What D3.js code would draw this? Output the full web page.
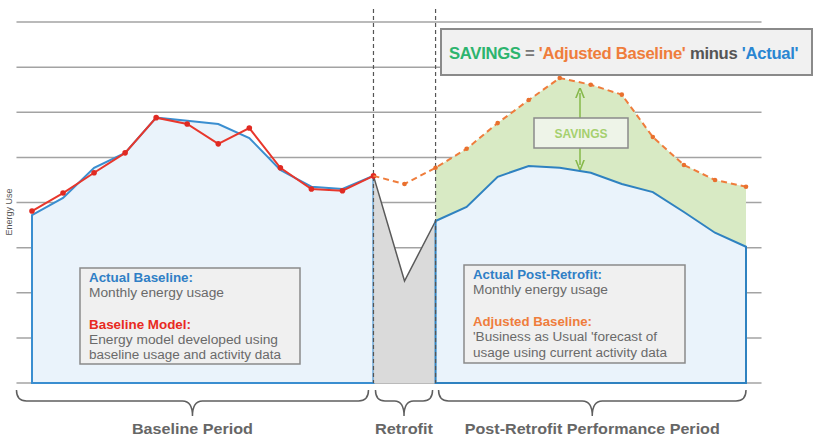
<!DOCTYPE html>
<html>
<head>
<meta charset="utf-8" />
<title>Energy Savings</title>
<script src="https://d3js.org/d3.v7.min.js"></script>
<style>
  body { margin: 0; background: #fff; }
  text { font-family: "Liberation Sans", Arial, sans-serif; }
</style>
</head>
<body>
<svg id="viz"></svg>
<script>
// values (energy use, gridline units)
var actualBaseline = [3.72, 4.10, 4.77, 5.10, 5.88, 5.81, 5.74, 5.43, 4.72, 4.35, 4.30, 4.59];
var baselineModel  = [3.81, 4.21, 4.66, 5.10, 5.88, 5.74, 5.30, 5.65, 4.77, 4.30, 4.26, 4.59];
var retrofitActual = [2.26];
var actualPost     = [3.59, 3.90, 4.57, 4.81, 4.77, 4.66, 4.41, 4.23, 3.79, 3.33, 3.02];
// starts at the last baseline month
var adjustedBaseline = [4.59, 4.41, 4.77, 5.19, 5.76, 6.27, 6.76, 6.61, 6.39, 5.45, 4.83, 4.50, 4.35];
var gridTicks = [0, 1, 2, 3, 4, 5, 6, 7, 8];
var periodNames = ["Baseline Period", "Retrofit", "Post-Retrofit Performance Period"];

var width = 824, height = 442;
var svg = d3.select("#viz").attr("width", width).attr("height", height);

var actual = actualBaseline.concat(retrofitActual, actualPost);
var nB = actualBaseline.length;          // 12
var iPost = nB + retrofitActual.length;   // 13
var iLast = actual.length - 1;            // 23

var x = d3.scaleLinear().domain([0, iLast]).range([32, 746]);
var y = d3.scaleLinear().domain([0, 8]).range([383, 22]);

var pts = actual.map(function(v, i) { return {i: i, v: v}; });
var modelPts = baselineModel.map(function(v, i) { return {i: i, v: v}; });
var adjPts = adjustedBaseline.map(function(v, i) { return {i: i + nB - 1, v: v}; });

// gridlines
svg.append("g").selectAll("line")
  .data(gridTicks)
  .enter().append("line")
  .attr("x1", x(-0.5)).attr("x2", x(iLast + 0.5))
  .attr("y1", function(d) { return y(d); })
  .attr("y2", function(d) { return y(d); })
  .style("stroke", "#a3a3a3")
  .style("stroke-width", 1.5);

var area = d3.area()
  .x(function(d) { return x(d.i); })
  .y0(y(0))
  .y1(function(d) { return y(d.v); });

var line = d3.line()
  .x(function(d) { return x(d.i); })
  .y(function(d) { return y(d.v); });

// savings area between adjusted baseline and actual
var postActual = pts.slice(iPost);
var adjPost = adjPts.filter(function(d) { return d.i >= iPost; });
var savings = adjPost.map(function(d, k) { return {i: d.i, top: d.v, bot: postActual[k].v}; });
svg.append("path")
  .datum(savings)
  .attr("d", d3.area()
    .x(function(d) { return x(d.i); })
    .y0(function(d) { return y(d.bot); })
    .y1(function(d) { return y(d.top); }))
  .attr("fill", "#d8eac4");

// baseline fill
svg.append("path")
  .datum(pts.slice(0, nB))
  .attr("d", area)
  .attr("fill", "#eaf3fb")
  .style("stroke", "#3a8ed0")
  .style("stroke-width", 2);

// retrofit fill
svg.append("path")
  .datum(pts.slice(nB - 1, iPost + 1))
  .attr("d", area)
  .attr("fill", "#dadada");
svg.append("path")
  .datum(pts.slice(nB - 1, iPost + 1))
  .attr("d", line)
  .attr("fill", "none")
  .style("stroke", "#5a5a5a")
  .style("stroke-width", 1.5);

// post retrofit fill
svg.append("path")
  .datum(postActual)
  .attr("d", area)
  .attr("fill", "#eaf3fb")
  .style("stroke", "#2f82c0")
  .style("stroke-width", 2);

// dashed period separators
svg.append("g").selectAll("line")
  .data([nB - 1, iPost])
  .enter().append("line")
  .attr("x1", function(d) { return x(d); })
  .attr("x2", function(d) { return x(d); })
  .attr("y1", 9).attr("y2", y(0))
  .style("stroke", "#555")
  .style("stroke-width", 1.2)
  .style("stroke-dasharray", "4,3");

// baseline model (red)
svg.append("path")
  .datum(modelPts)
  .attr("d", line)
  .attr("fill", "none")
  .style("stroke", "#e8372c")
  .style("stroke-width", 2);
svg.append("g").selectAll("circle")
  .data(modelPts)
  .enter().append("circle")
  .attr("cx", function(d) { return x(d.i); })
  .attr("cy", function(d) { return y(d.v); })
  .attr("r", 2.8)
  .style("fill", "#e02a22");

// adjusted baseline (orange dashed)
svg.append("path")
  .datum(adjPts)
  .attr("d", line)
  .attr("fill", "none")
  .style("stroke", "#ef7d3c")
  .style("stroke-width", 2)
  .style("stroke-dasharray", "6,4");
svg.append("g").selectAll("circle")
  .data(adjPts.slice(1))
  .enter().append("circle")
  .attr("cx", function(d) { return x(d.i); })
  .attr("cy", function(d) { return y(d.v); })
  .attr("r", 2.3)
  .style("fill", "#e9702e");

// y label
svg.append("text")
  .attr("transform", "translate(12,212) rotate(-90)")
  .attr("text-anchor", "middle")
  .style("font-size", "9px")
  .style("fill", "#555")
  .text("Energy Use");

// savings arrow
var defs = svg.append("defs");
defs.append("marker")
  .attr("id", "arr")
  .attr("viewBox", "0 0 10 10")
  .attr("refX", 5).attr("refY", 5)
  .attr("markerWidth", 7).attr("markerHeight", 7)
  .attr("orient", "auto-start-reverse")
  .append("path")
  .attr("d", "M0,1 L10,5 L0,9")
  .attr("fill", "none")
  .attr("stroke", "#86b84a")
  .attr("stroke-width", 1.5);

svg.append("line")
  .attr("x1", 580).attr("x2", 580).attr("y1", 118).attr("y2", 93)
  .style("stroke", "#86b84a").style("stroke-width", 1.5)
  .attr("marker-end", "url(#arr)");
svg.append("line")
  .attr("x1", 580).attr("x2", 580).attr("y1", 148).attr("y2", 165)
  .style("stroke", "#86b84a").style("stroke-width", 1.5)
  .attr("marker-end", "url(#arr)");

svg.append("rect")
  .attr("x", 534).attr("y", 118).attr("width", 94).attr("height", 30)
  .attr("fill", "#eef4e8")
  .style("stroke", "#8a8a8a").style("stroke-width", 1.5);
svg.append("text")
  .attr("x", 581).attr("y", 138)
  .attr("text-anchor", "middle")
  .style("font-size", "12px").style("font-weight", "bold")
  .style("fill", "#a5d06e")
  .text("SAVINGS");

// title box
svg.append("rect")
  .attr("x", 441).attr("y", 29).attr("width", 371).attr("height", 46)
  .attr("fill", "#f1f1f1")
  .style("stroke", "#8a8a8a").style("stroke-width", 2);
var title = svg.append("text")
  .attr("transform", "translate(449,59) scale(0.98,1)")
  .style("font-size", "17px").style("font-weight", "bold")
  .style("letter-spacing", "-0.3px");
[["SAVINGS", "#2db46e"], [" = ", "#777"], ["'Adjusted Baseline'", "#ef7d3c"],
 [" minus ", "#555"], ["'Actual'", "#2a86d2"]].forEach(function(p) {
  title.append("tspan").style("fill", p[1]).text(p[0]);
});

// note boxes
function noteBox(bx, by, bw, bh, lines) {
  svg.append("rect")
    .attr("x", bx).attr("y", by).attr("width", bw).attr("height", bh)
    .attr("fill", "#f0f0f0")
    .style("stroke", "#8a8a8a").style("stroke-width", 1.5);
  lines.forEach(function(l) {
    var t = svg.append("text")
      .attr("x", bx + 9).attr("y", l.y)
      .style("font-size", "12px")
      .style("font-weight", l.bold ? "bold" : "normal")
      .style("fill", l.color || "#6a6a6a")
      .text(l.text);
    if (l.len) t.attr("textLength", l.len).attr("lengthAdjust", "spacingAndGlyphs");
  });
}

noteBox(80, 268, 220, 96, [
  {text: "Actual Baseline:", y: 282, bold: true, color: "#2f7fc6", len: 104},
  {text: "Monthly energy usage", y: 297, len: 135},
  {text: "Baseline Model:", y: 329, bold: true, color: "#e82a22", len: 102},
  {text: "Energy model developed using", y: 344, len: 189},
  {text: "baseline usage and activity data", y: 359, len: 192}
]);

noteBox(464, 265, 221, 98, [
  {text: "Actual Post-Retrofit:", y: 279, bold: true, color: "#2f7fc6", len: 129},
  {text: "Monthly energy usage", y: 294, len: 135},
  {text: "Adjusted Baseline:", y: 326, bold: true, color: "#ef7d3c", len: 119},
  {text: "'Business as Usual 'forecast of", y: 341, len: 184},
  {text: "usage using current activity data", y: 357, len: 194}
]);

// period braces
var braces = [
  {name: periodNames[0], x1: x(-0.5), x2: x(nB - 1) - 5, len: 121},
  {name: periodNames[1], x1: x(nB - 1) + 2, x2: x(iPost) - 3, len: 58},
  {name: periodNames[2], x1: x(iPost) + 3, x2: x(iLast), len: 255}
];
var by0 = 390, by1 = 401, by2 = 416;
braces.forEach(function(b) {
  var cx = (b.x1 + b.x2) / 2, q = Math.min(10, (b.x2 - b.x1) / 6);
  var d = "M" + b.x1 + "," + by0 +
    " Q" + b.x1 + "," + by1 + " " + (b.x1 + q) + "," + by1 +
    " L" + (cx - q) + "," + by1 +
    " Q" + cx + "," + by1 + " " + cx + "," + by2 +
    " Q" + cx + "," + by1 + " " + (cx + q) + "," + by1 +
    " L" + (b.x2 - q) + "," + by1 +
    " Q" + b.x2 + "," + by1 + " " + b.x2 + "," + by0;
  svg.append("path").attr("d", d)
    .attr("fill", "none")
    .style("stroke", "#5f5f5f").style("stroke-width", 1.5);
  svg.append("text")
    .attr("x", cx - b.len / 2).attr("y", 434)
    .attr("textLength", b.len).attr("lengthAdjust", "spacingAndGlyphs")
    .style("font-size", "15px").style("font-weight", "bold")
    .style("fill", "#666")
    .text(b.name);
});
</script>
</body>
</html>
